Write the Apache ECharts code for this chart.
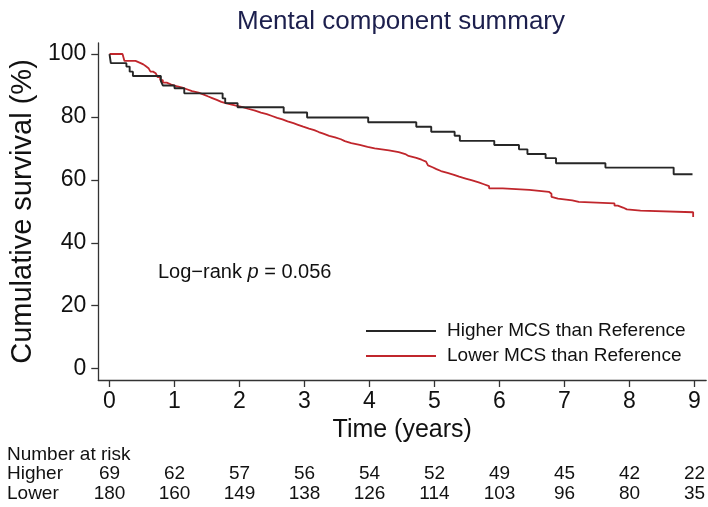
<!DOCTYPE html>
<html>
<head>
<meta charset="utf-8">
<script src="https://cdn.jsdelivr.net/npm/echarts@6/dist/echarts.min.js"></script>
<style>
  html, body { margin: 0; padding: 0; background: #fff; }
  #chart { width: 708px; height: 507px; }
</style>
</head>
<body>
<div id="chart"></div>
<script>
// Kaplan–Meier estimates: event times (years) and cumulative survival (%)
const higherTimes = [0, 0.02, 0.26, 0.31, 0.36, 0.79, 0.82, 1.0, 1.15, 1.74, 1.78, 1.97, 2.68, 3.04, 3.98, 4.72, 4.95, 5.31, 5.39, 5.92, 6.30, 6.43, 6.71, 6.87, 7.63, 8.68, 8.97];
const higherSurv  = [100, 97.1, 96.0, 94.4, 93.0, 91.4, 90.0, 89.1, 87.5, 85.9, 84.4, 83.1, 81.4, 79.8, 78.3, 76.9, 75.3, 74.0, 72.4, 71.1, 69.7, 68.2, 66.9, 65.3, 63.9, 61.8, 61.8];

const lowerTimes = [0, 0.20, 0.23, 0.40, 0.47, 0.52, 0.56, 0.60, 0.63, 0.67, 0.71, 0.74, 0.78, 0.82, 0.88, 0.95, 1.03, 1.12, 1.19, 1.27, 1.37, 1.45, 1.52, 1.58, 1.65, 1.72, 1.80, 1.93, 2.05, 2.13, 2.24, 2.33, 2.42, 2.50, 2.58, 2.66, 2.74, 2.83, 2.90, 2.98, 3.07, 3.15, 3.22, 3.30, 3.38, 3.47, 3.56, 3.62, 3.72, 3.85, 3.97, 4.08, 4.30, 4.45, 4.55, 4.60, 4.72, 4.80, 4.87, 4.90, 4.93, 4.97, 5.03, 5.10, 5.20, 5.30, 5.38, 5.48, 5.58, 5.68, 5.76, 5.84, 6.05, 6.46, 6.76, 6.80, 6.83, 6.90, 7.12, 7.22, 7.77, 7.82, 7.90, 7.96, 8.17, 8.98];
const lowerSurv  = [100, 99.4, 97.8, 97.2, 96.7, 96.1, 95.5, 95.0, 94.4, 93.9, 93.3, 92.7, 91.7, 90.9, 90.3, 89.8, 89.3, 88.8, 88.2, 87.7, 87.1, 86.5, 86.0, 85.4, 84.8, 84.3, 83.7, 83.1, 82.6, 82.0, 81.4, 80.9, 80.3, 79.7, 79.2, 78.6, 78.0, 77.5, 76.9, 76.3, 75.8, 75.2, 74.6, 74.0, 73.5, 72.9, 72.3, 71.7, 71.1, 70.5, 70.0, 69.4, 68.8, 68.2, 67.6, 67.0, 66.4, 65.8, 65.2, 64.6, 64.0, 63.4, 62.8, 62.2, 61.6, 61.0, 60.4, 59.8, 59.2, 58.6, 58.0, 57.3, 56.8, 56.2, 55.6, 54.6, 54.0, 53.5, 53.0, 52.5, 51.8, 51.2, 50.6, 50.2, 49.7, 48.2];

// Axis ticks
const xTicks = [0, 1, 2, 3, 4, 5, 6, 7, 8, 9];
const yTicks = [0, 20, 40, 60, 80, 100];

// Number at risk at each whole year
const riskHigher = [69, 62, 57, 56, 54, 52, 49, 45, 42, 22];
const riskLower  = [180, 160, 149, 138, 126, 114, 103, 96, 80, 35];

const seriesNames = ['Higher MCS than Reference', 'Lower MCS than Reference'];
const seriesColors = ['#262626', '#c0262c'];

const FONT = "'Liberation Sans', Arial, Helvetica, sans-serif";

function pairs(t, s) { return t.map((v, i) => [v, s[i]]); }

const chart = echarts.init(document.getElementById('chart'), null, { renderer: 'canvas' });

// Extra bottom axes that print the number-at-risk rows under each year tick
const riskAxis = (values, offset) => ({
  type: 'value', gridIndex: 0, position: 'bottom', offset: offset,
  min: -0.173, max: 9.18,
  axisLine: { show: false }, axisTick: { show: false }, splitLine: { show: false },
  axisLabel: {
    customValues: xTicks, margin: 0,
    formatter: v => String(values[Math.round(v)]),
    fontFamily: FONT, fontSize: 19, color: '#111'
  }
});

const plainText = { fontFamily: FONT, fontSize: 19, fontWeight: 'normal', color: '#111' };

chart.setOption({
  animation: false,
  backgroundColor: '#fff',
  title: [
    {
      text: 'Mental component summary', left: 237, top: 9, padding: 0,
      textStyle: { fontFamily: FONT, fontSize: 26, fontWeight: 'normal', color: '#1c1f4d' }
    },
    {
      text: '{a|Log\u2212rank }{b|p}{a| = 0.056}', left: 158, top: 262, padding: 0,
      textStyle: {
        fontWeight: 'normal',
        rich: {
          a: { fontFamily: FONT, fontSize: 20, fontWeight: 'normal', color: '#111' },
          b: { fontFamily: FONT, fontSize: 20, fontWeight: 'normal', fontStyle: 'italic', color: '#111' }
        }
      }
    },
    { text: 'Number at risk', left: 7, top: 445, padding: 0, textStyle: plainText },
    { text: 'Higher', left: 7, top: 464, padding: 0, textStyle: plainText },
    { text: 'Lower', left: 7, top: 484, padding: 0, textStyle: plainText }
  ],
  legend: {
    orient: 'vertical', left: 366, top: 321, padding: 0,
    icon: 'rect', itemWidth: 70, itemHeight: 2, itemGap: 5,
    data: seriesNames,
    textStyle: { fontFamily: FONT, fontSize: 19, color: '#111', lineHeight: 20, padding: [0, 0, 0, 6] }
  },
  grid: { left: 97, right: 0, top: 43, bottom: 127, containLabel: false },
  xAxis: [
    {
      type: 'value', min: -0.173, max: 9.18,
      name: 'Time (years)', nameLocation: 'middle', nameGap: 33,
      nameTextStyle: { fontFamily: FONT, fontSize: 25, color: '#111' },
      axisLine: { show: true, onZero: false, lineStyle: { color: '#333', width: 1.3 } },
      axisTick: { show: true, customValues: xTicks, length: 7, lineStyle: { color: '#333', width: 1.3 } },
      axisLabel: { customValues: xTicks, margin: 10, fontFamily: FONT, fontSize: 23, color: '#111' },
      splitLine: { show: false }
    },
    riskAxis(riskHigher, 84),
    riskAxis(riskLower, 104)
  ],
  yAxis: {
    type: 'value', min: -3.62, max: 103.5,
    name: 'Cumulative survival (%)', nameLocation: 'middle', nameGap: 60,
    nameTextStyle: { fontFamily: FONT, fontSize: 29, color: '#111' },
    axisLine: { show: true, onZero: false, lineStyle: { color: '#333', width: 1.3 } },
    axisTick: { show: true, customValues: yTicks, length: 7, lineStyle: { color: '#333', width: 1.3 } },
    axisLabel: { customValues: yTicks, margin: 12, fontFamily: FONT, fontSize: 23, color: '#111' },
    splitLine: { show: false }
  },
  series: [
    {
      name: seriesNames[0], type: 'line', step: 'end', showSymbol: false,
      data: pairs(higherTimes, higherSurv), color: seriesColors[0],
      lineStyle: { width: 1.9, color: seriesColors[0] }, z: 3
    },
    {
      name: seriesNames[1], type: 'line', step: 'end', showSymbol: false,
      data: pairs(lowerTimes, lowerSurv), color: seriesColors[1],
      lineStyle: { width: 1.8, color: seriesColors[1] }, z: 2
    }
  ]
});
</script>
</body>
</html>
